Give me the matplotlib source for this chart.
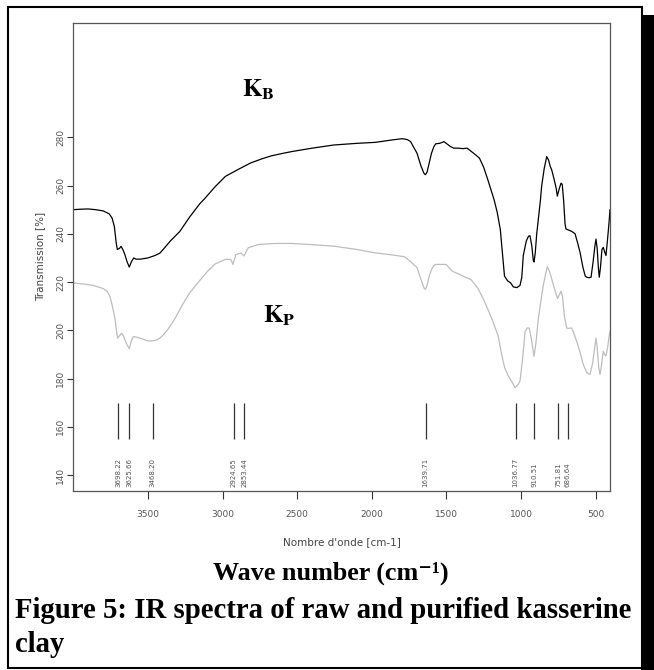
import matplotlib
matplotlib.use("Agg")
import matplotlib.pyplot as plt
from matplotlib.patches import Rectangle

plt.rcParams["mathtext.fontset"] = "stix"

# raw clay spectrum (K_B): wavenumber [cm-1], transmission [%]
kb_wn = [4000, 3950, 3900, 3850, 3800, 3760, 3740, 3725, 3712, 3705, 3690, 3680, 3668, 3655,
         3640, 3625, 3610, 3595, 3580, 3550, 3500, 3453, 3420, 3398, 3350, 3286, 3220, 3152,
         3121, 3050, 2981, 2898, 2814, 2740, 2674, 2600, 2535, 2400, 2256, 2100, 1977, 1865,
         1800, 1781, 1760, 1740, 1720, 1697, 1670, 1650, 1641, 1630, 1615, 1600, 1585, 1572,
         1545, 1516, 1495, 1474, 1450, 1418, 1390, 1362, 1320, 1279, 1250, 1223, 1200, 1181,
         1160, 1139, 1125, 1111, 1090, 1070, 1052, 1028, 1007, 995, 985, 965, 950, 940, 928,
         918, 913, 905, 895, 884, 870, 862, 845, 828, 815, 805, 795, 780, 765, 757, 745, 732,
         724, 715, 705, 699, 680, 660, 638, 620, 605, 585, 570, 560, 545, 531, 518, 505, 498,
         490, 482, 476, 468, 458, 449, 440, 431, 420, 410, 404]
kb_t = [250.0, 250.2, 250.3, 250.0, 249.5, 248.3, 246.5, 243.0, 236.0, 233.5, 234.0, 234.8, 233.5, 231.5,
        228.5, 226.2, 228.5, 230.0, 229.5, 229.5, 230.0, 231.0, 232.0, 233.5, 237.0, 241.0, 247.0, 252.5,
        254.5, 259.5, 263.8, 266.6, 269.3, 271.0, 272.3, 273.3, 274.1, 275.5, 276.8, 277.5, 277.9, 278.9,
        279.4, 279.3, 279.0, 278.2, 276.0, 273.4, 268.0, 265.0, 264.5, 265.5, 269.5, 273.4, 276.0, 277.3,
        277.5, 278.2, 277.2, 276.2, 275.5, 275.5, 275.3, 275.5, 273.5, 271.4, 267.5, 262.5, 258.0, 254.2,
        249.0, 241.8, 232.0, 222.5, 220.5, 219.7, 218.0, 217.7, 218.6, 222.0, 231.0, 237.0, 239.0, 239.2, 235.0,
        229.0, 228.3, 232.0, 240.0, 246.0, 254.0, 259.7, 267.0, 272.0, 270.5, 268.0, 266.6, 263.0, 259.0, 255.6, 258.5, 261.0,
        260.5, 254.0, 244.0, 242.0, 241.5, 241.0, 240.0, 236.0, 232.4, 226.0, 222.5, 222.0, 221.8, 222.0, 228.0, 235.0, 237.8,
        234.0, 226.0, 222.0, 226.0, 233.5, 234.4, 232.5, 231.0, 238.0, 245.0, 250.0]

# purified clay spectrum (K_P)
kp_wn = [4000, 3930, 3866, 3799, 3770, 3754, 3740, 3721, 3710, 3703, 3690, 3676, 3665, 3654,
         3640, 3625, 3612, 3598, 3580, 3554, 3520, 3498, 3470, 3442, 3420, 3398, 3365, 3331,
         3300, 3264, 3220, 3152, 3100, 3050, 2981, 2945, 2931, 2920, 2911, 2890, 2875, 2856,
         2840, 2828, 2790, 2758, 2650, 2535, 2400, 2256, 2100, 1977, 1870, 1781, 1740, 1715,
         1697, 1670, 1650, 1641, 1630, 1615, 1600, 1585, 1572, 1530, 1502, 1480, 1460, 1400,
         1335, 1290, 1251, 1200, 1153, 1130, 1110, 1085, 1060, 1040, 1020, 1007, 990, 973, 958,
         945, 930, 913, 900, 884, 865, 851, 835, 824, 810, 795, 775, 755, 745, 732, 722, 710,
         694, 680, 661, 645, 627, 605, 583, 560, 538, 520, 505, 498, 490, 480, 471, 462, 449,
         440, 431, 420, 410, 404]
kp_t = [219.6, 219.2, 218.6, 217.3, 216.0, 213.9, 210.5, 205.0, 199.5, 196.8, 197.8, 198.8, 197.8, 196.0,
        194.0, 192.4, 195.5, 197.4, 197.2, 196.8, 196.0, 195.6, 195.6, 196.0, 196.8, 198.0, 200.5, 203.6,
        207.0, 211.1, 215.5, 220.7, 224.5, 227.5, 229.4, 229.4, 227.3, 229.5, 231.4, 231.8, 232.0, 230.8,
        232.8, 234.2, 235.0, 235.6, 236.0, 236.0, 235.5, 234.9, 233.5, 232.1, 231.3, 230.5, 228.5, 227.0,
        226.0, 221.0, 217.5, 217.0, 218.5, 222.5, 225.2, 226.8, 227.3, 227.3, 227.3, 225.8, 224.5, 222.8,
        221.0, 217.5, 212.8, 205.5, 197.6, 190.0, 184.5, 181.0, 178.5, 176.2, 177.5, 179.0, 188.0, 199.5, 201.0,
        200.9, 196.0, 189.2, 195.0, 205.0, 213.0, 218.6, 223.5, 226.4, 224.5, 221.4, 217.0, 213.2, 214.5, 216.2, 214.0, 206.0,
        200.9, 200.8, 201.0, 198.5, 195.4, 191.0, 185.8, 182.5, 181.7, 186.5, 193.5, 196.8, 193.0, 185.0, 181.7, 185.0, 191.3,
        190.0, 189.4, 193.0, 197.5, 199.6]

# marked band positions
peaks = [3698.22, 3625.66, 3468.20, 2924.65, 2853.44, 1639.71, 1036.77, 910.51, 751.81, 686.64]
peak_labels = ["3698.22", "3625.66", "3468.20", "2924.65", "2853.44",
               "1639.71", "1036.77", "910.51", "751.81", "686.64"]

x_ticks = [3500, 3000, 2500, 2000, 1500, 1000, 500]
y_ticks = [140, 160, 180, 200, 220, 240, 260, 280]

W, H = 654, 670
fig = plt.figure(figsize=(W / 100, H / 100), dpi=100)
ax = fig.add_axes([73.3 / W, 1 - 491 / H, (610 - 73.3) / W, (491 - 22.7) / H])

ax.plot(kp_wn, kp_t, color="#bdbdbd", lw=0.9)
ax.plot(kb_wn, kb_t, color="black", lw=0.9)

ax.vlines(peaks, 155, 170, color="#333333", lw=0.9)
for p, lab in zip(peaks, peak_labels):
    ax.text(p, 135.2, lab, rotation=90, ha="center", va="bottom", fontsize=5, color="#555555")

ax.text(2868, 299.5, r"$\mathbf{K}_{\mathbf{B}}$", fontsize=18, ha="left", va="center")
ax.text(2729, 206, r"$\mathbf{K}_{\mathbf{P}}$", fontsize=18, ha="left", va="center")

ax.set_xlim(4000, 404)
ax.set_ylim(133.4, 327.5)
ax.set_xticks(x_ticks)
ax.set_yticks(y_ticks)
ax.tick_params(axis="x", length=5.8, pad=8, labelsize=6.5, labelcolor="#555555", color="#333333")
ax.tick_params(axis="y", length=4, pad=2, labelsize=6.5, labelcolor="#555555", color="#333333")
for lab in ax.get_yticklabels():
    lab.set_rotation(90)
    lab.set_va("center")
for s in ax.spines.values():
    s.set_color("#555555")
    s.set_linewidth(0.9)

ax.set_ylabel("Transmission [%]", fontsize=7.5, color="#444444", labelpad=8)
ax.set_xlabel("Nombre d'onde [cm-1]", fontsize=7.5, color="#444444", labelpad=13)

serif = ["Liberation Serif", "DejaVu Serif"]
fig.text(331 / W, 1 - 573 / H, "Wave number (cm\u207b\u00b9)", fontsize=18.8, fontweight="bold",
         family=serif, ha="center", va="center")
fig.text(15 / W, 1 - 610 / H, "Figure 5: IR spectra of raw and purified kasserine", fontsize=20.7,
         fontweight="bold", family=serif, ha="left", va="center")
fig.text(15 / W, 1 - 645 / H, "clay", fontsize=20.7, fontweight="bold", family=serif,
         ha="left", va="center")

# page frame and its shadow
fig.patches.append(Rectangle((8 / W, 2 / H), 633.5 / W, 660.7 / H, transform=fig.transFigure,
                             fill=False, edgecolor="black", lw=1.5))
fig.patches.append(Rectangle((641 / W, 0), 13 / W, 655 / H, transform=fig.transFigure,
                             facecolor="black", edgecolor="none"))

fig.savefig("out.png", dpi=100)
